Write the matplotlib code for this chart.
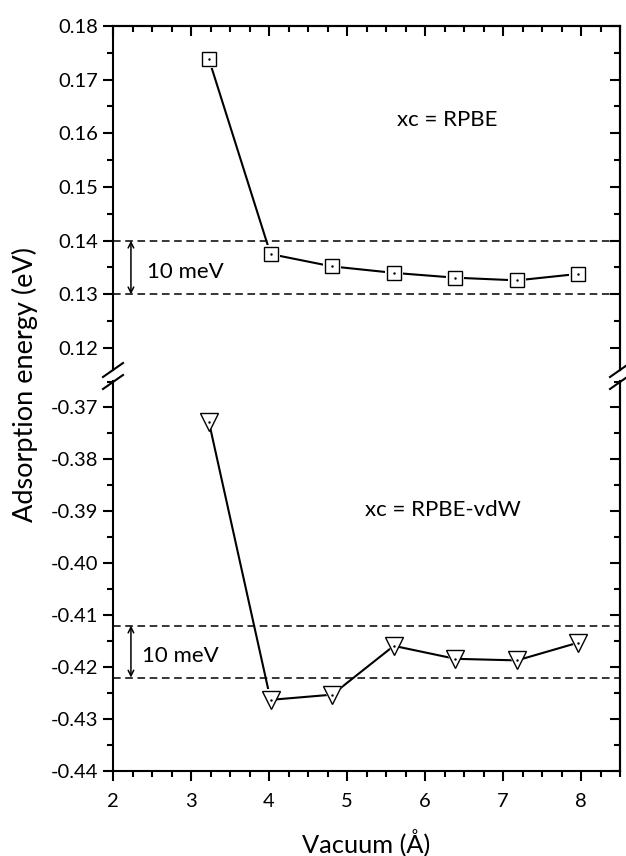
import matplotlib
matplotlib.use("Agg")
import matplotlib.pyplot as plt
from matplotlib.lines import Line2D
from matplotlib.ticker import MultipleLocator, FormatStrFormatter

plt.rcParams['font.family'] = ['Lato', 'DejaVu Sans']

vacuum = [3.23, 4.02, 4.81, 5.60, 6.39, 7.18, 7.96]
rpbe = [0.1738, 0.1375, 0.1352, 0.1340, 0.1331, 0.1326, 0.1338]
rpbe_vdw = [-0.3728, -0.4263, -0.4253, -0.4159, -0.4184, -0.4187, -0.4153]
rpbe_band = [0.14, 0.13]
vdw_band = [-0.412, -0.422]

W, H = 626, 856
fig = plt.figure(figsize=(W / 100, H / 100), dpi=100)

left = 113 / W
width = (620 - 113) / W
ax_top = fig.add_axes([left, 1 - 370 / H, width, (370 - 26) / H])
ax_bot = fig.add_axes([left, 1 - 771 / H, width, (771 - 381) / H])

fs_tick = 14.5
lw_sp = 1.5

for ax in (ax_top, ax_bot):
    ax.set_xlim(2, 8.5)
    for s in ax.spines.values():
        s.set_linewidth(lw_sp)
    ax.xaxis.set_major_locator(MultipleLocator(1))
    ax.xaxis.set_minor_locator(MultipleLocator(0.25))
    ax.yaxis.set_major_locator(MultipleLocator(0.01))
    ax.yaxis.set_minor_locator(MultipleLocator(0.005))
    ax.yaxis.set_major_formatter(FormatStrFormatter('%.2f'))
    ax.tick_params(axis='both', which='major', direction='out', length=7, width=1.5,
                   labelsize=fs_tick, top=False, right=False)
    ax.tick_params(axis='x', which='major', pad=9)
    ax.tick_params(axis='both', which='minor', direction='out', length=4, width=1.5,
                   top=False, right=False)
    secx = ax.secondary_xaxis('top')
    secy = ax.secondary_yaxis('right')
    for sec, axn in ((secx, 'x'), (secy, 'y')):
        if axn == 'x':
            sec.xaxis.set_major_locator(MultipleLocator(1))
            sec.xaxis.set_minor_locator(MultipleLocator(0.25))
        else:
            sec.yaxis.set_major_locator(MultipleLocator(0.01))
            sec.yaxis.set_minor_locator(MultipleLocator(0.005))
        sec.tick_params(which='major', direction='in', length=7, width=1.5,
                        labeltop=False, labelright=False, labelbottom=False, labelleft=False)
        sec.tick_params(which='minor', direction='in', length=4, width=1.5)
        for s in sec.spines.values():
            s.set_linewidth(lw_sp)
    ax._secx = secx

ax_top.set_ylim(0.1159, 0.18)
ax_bot.set_ylim(-0.44, -0.3649)

ax_top.spines['bottom'].set_visible(False)
ax_top.tick_params(axis='x', which='both', bottom=False, labelbottom=False)
ax_bot.spines['top'].set_visible(False)
ax_bot._secx.set_visible(False)

# data (line with gaps around markers, Origin style)
def draw_series(ax, x, y, marker, ms):
    ax.plot(x, y, '-', color='black', lw=1.5, zorder=2)
    ax.plot(x, y, linestyle='none', marker=marker, ms=ms + 3.5, mfc='white',
            mec='white', mew=0, zorder=3)
    ax.plot(x, y, linestyle='none', marker=marker, ms=ms, mfc='white',
            mec='black', mew=1.0, zorder=4)
    ax.plot(x, y, linestyle='none', marker='.', ms=1.5, color='black', zorder=5)

draw_series(ax_top, vacuum, rpbe, 's', 9.5)
draw_series(ax_bot, vacuum, rpbe_vdw, 'v', 12.5)

for yv in rpbe_band:
    ax_top.axhline(yv, color='black', lw=1.1, ls=(0, (5, 3)), zorder=1)
for yv in vdw_band:
    ax_bot.axhline(yv, color='black', lw=1.1, ls=(0, (5, 3)), zorder=1)

ax_top.annotate('', xy=(2.23, rpbe_band[0]), xytext=(2.23, rpbe_band[1]),
                arrowprops=dict(arrowstyle='<->', color='black', lw=1.1,
                                shrinkA=0, shrinkB=0, mutation_scale=10))
ax_bot.annotate('', xy=(2.23, vdw_band[0]), xytext=(2.23, vdw_band[1]),
                arrowprops=dict(arrowstyle='<->', color='black', lw=1.1,
                                shrinkA=0, shrinkB=0, mutation_scale=10))
ax_top.text(2.44, 0.1341, '10 meV', fontsize=16, va='center', ha='left')
ax_bot.text(2.37, -0.4178, '10 meV', fontsize=16, va='center', ha='left')

ax_top.text(6.28, 0.1625, 'xc = RPBE', fontsize=16, ha='center', va='center')
ax_bot.text(6.23, -0.3897, 'xc = RPBE-vdW', fontsize=16, ha='center', va='center')

fig.text(25 / W, 1 - 385 / H, 'Adsorption energy (eV)', rotation=90,
         fontsize=19.5, ha='center', va='center')
fig.text(366 / W, 1 - 842 / H, 'Vacuum (Å)', fontsize=18.3, ha='center', va='center')

# break marks
for xp in (113, 620):
    for yp in (370, 382):
        fig.add_artist(Line2D([(xp - 10) / W, (xp + 10) / W],
                              [1 - (yp + 7) / H, 1 - (yp - 7) / H],
                              transform=fig.transFigure, color='black', lw=1.5,
                              clip_on=False))

fig.savefig('out.png', dpi=100)
